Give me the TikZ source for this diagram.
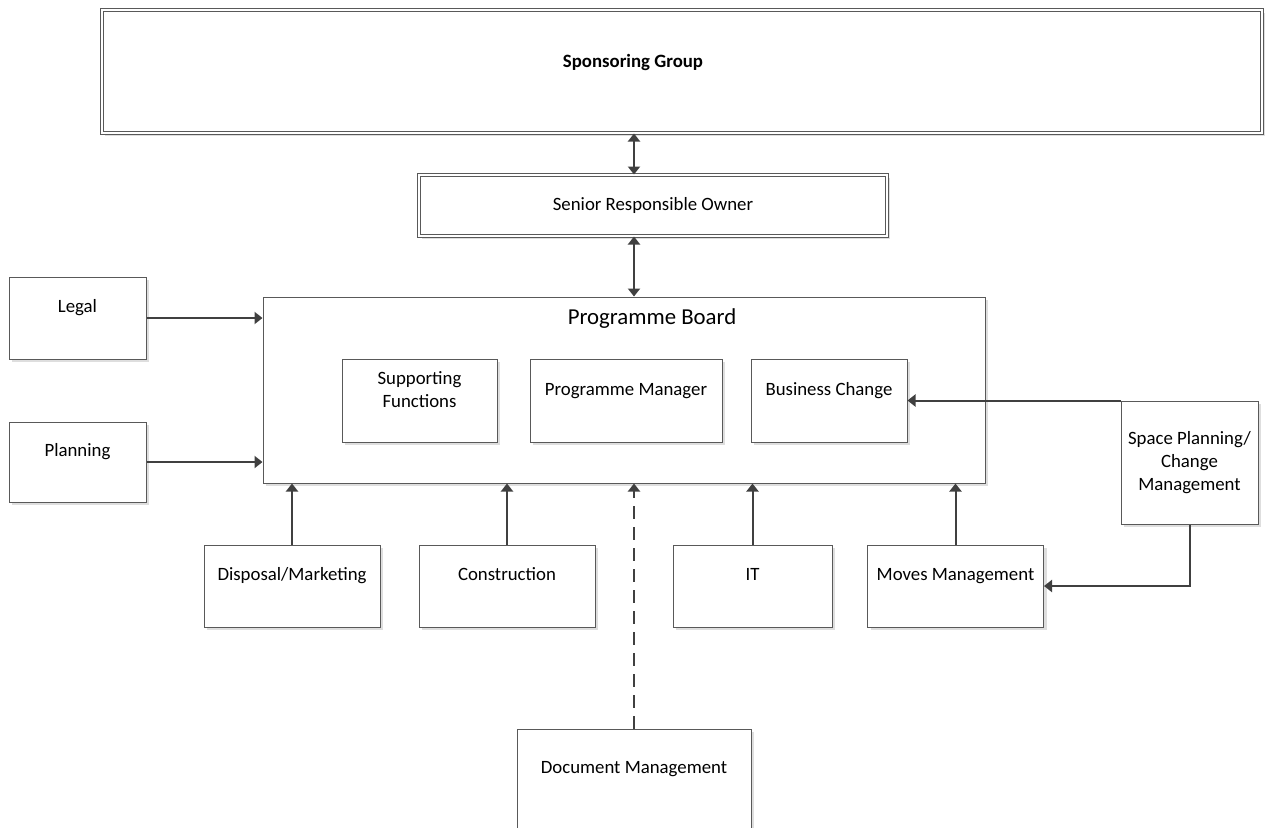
\documentclass[tikz,border=0pt]{standalone}
\usepackage{fontspec}
\setmainfont{Carlito}
\usepackage{tikz}
\usetikzlibrary{arrows.meta, positioning, shadows, calc}
\definecolor{boxline}{RGB}{89, 89, 89}
\definecolor{arrowgrey}{RGB}{64, 64, 64}
\definecolor{shadowgrey}{RGB}{222, 222, 222}

\begin{document}
\begin{tikzpicture}[
    x=0.5pt, y=-0.5pt,
    every node/.style={font=\fontsize{9.4}{11.4}\selectfont, text=black},
    box/.style={rectangle, draw=boxline, line width=0.5pt, fill=white, inner sep=2pt,
      drop shadow={shadow xshift=1.5pt, shadow yshift=-1.5pt, fill=shadowgrey, opacity=1}},
    upbox/.style={box, text height=6.5pt, text depth=11.9pt},
    dblbox/.style={box, double=white, double distance=1pt},
    link/.style={line width=1pt, draw=arrowgrey, -{Triangle[length=4pt, width=6pt]}},
    both/.style={link, {Triangle[length=4pt, width=6pt]}-{Triangle[length=4pt, width=6pt]}}
  ]
  \useasboundingbox (0,0) rectangle (1265,827);

  % Top of the chain
  \node[dblbox, minimum width=580pt, minimum height=61.5pt] (sponsor) at (682,71.5) {};
  \node[font=\fontsize{9.4}{11.4}\selectfont\bfseries] (sponsortxt) at (633,62) {Sponsoring Group};
  \node[dblbox, minimum width=234pt, minimum height=30.5pt] (sro) at (653,205.5) {Senior Responsible Owner};

  % Programme board and what sits inside it
  \node[box, minimum width=361pt, minimum height=93pt] (board) at (624,390) {};
  \node[font=\fontsize{11.4}{13.4}\selectfont] (boardtxt) at (652,319) {Programme Board};
  \node[box, align=center, text height=17.9pt, text depth=10.9pt, minimum width=77.5pt, minimum height=41.5pt] (support) at (419.5,400.5) {Supporting\\Functions};
  \node[upbox, minimum width=96pt, minimum height=41.5pt] (manager) at (626,400.5) {Programme Manager};
  \node[upbox, minimum width=78pt, minimum height=41.5pt] (business) at (829,400.5) {Business Change};

  % Boxes round the board
  \node[upbox, minimum width=68.5pt, minimum height=41pt] (legal) at (77.5,318) {Legal};
  \node[upbox, minimum width=68.5pt, minimum height=40pt] (planning) at (77.5,462) {Planning};
  \node[upbox, minimum width=88pt, minimum height=41pt] (disposal) at (292,586) {Disposal/Marketing};
  \node[upbox, minimum width=88pt, minimum height=41pt] (construct) at (507,586) {Construction};
  \node[upbox, minimum width=79.5pt, minimum height=41pt] (it) at (752.5,586) {IT};
  \node[upbox, minimum width=88pt, minimum height=41pt] (moves) at (955.5,586) {Moves Management};
  \node[box, align=center, minimum width=68.5pt, minimum height=61.5pt] (space) at (1189.5,462.5) {Space Planning/\\Change\\Management};
  \node[upbox, minimum width=117pt, minimum height=50pt] (docs) at (634,779) {Document Management};

  % Connectors
  \coordinate (spine) at (634,0);
  \draw[both] (sponsor.south -| spine) -- (sro.north -| spine);
  \draw[both] (sro.south -| spine) -- (board.north -| spine);
  \draw[link] (legal.east) -- (legal.east -| board.west);
  \draw[link] (planning.east) -- (planning.east -| board.west);
  \draw[link] (disposal.north) -- (disposal.north |- board.south);
  \draw[link] (construct.north) -- (construct.north |- board.south);
  \draw[link] (it.north) -- (it.north |- board.south);
  \draw[link] (moves.north) -- (moves.north |- board.south);
  \draw[link, dash pattern=on 6.5pt off 4pt] (docs.north) -- (docs.north |- board.south);
  \draw[link] (space.north west) -- (space.north west -| business.east);
  \draw[link] (space.south) |- (moves.east);
\end{tikzpicture}
\end{document}
